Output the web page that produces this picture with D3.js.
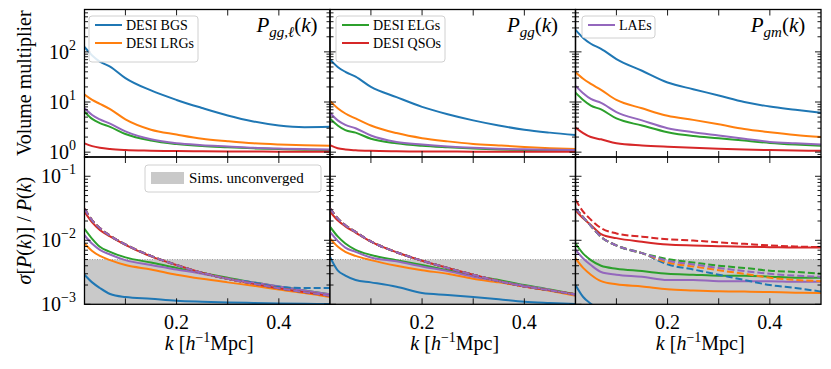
<!DOCTYPE html>
<html><head><meta charset="utf-8">
<script src="https://cdn.jsdelivr.net/npm/d3@7"></script>
<style>
body{margin:0;background:#fff}
text{font-family:"Liberation Serif","DejaVu Serif",serif;fill:#000}
</style>
</head><body>
<svg id="c" width="831" height="369"></svg>
<script>
// ---------------- DATA ----------------
const kGrid = [0.02, 0.035, 0.05, 0.07, 0.1, 0.15, 0.2, 0.25, 0.3, 0.35, 0.4, 0.45, 0.5];
const tracers = ["DESI BGS", "DESI LRGs", "DESI ELGs", "DESI QSOs", "LAEs"];
const colors = ["#1f77b4", "#ff7f0e", "#2ca02c", "#d62728", "#9467bd"];
const panelTitles = [["P", "gg,ℓ"], ["P", "gg"], ["P", "gm"]];
const xTickLabels = [0.2, 0.4];
const topTickLabels = [1, 10, 100];
const botTickLabels = [1e-3, 1e-2, 1e-1];
const shadeRange = [1e-3, 5e-3];

// Volume multiplier (top row), order: BGS, LRGs, ELGs, QSOs, LAEs
const volPggl = [
  [125, 85, 64, 51, 30, 17, 11, 7.6, 5.4, 4.1, 3.4, 3.15, 3.2],
  [14, 11, 9.2, 7.2, 4.5, 2.8, 2.25, 1.85, 1.65, 1.5, 1.42, 1.37, 1.34],
  [6.4, 4.6, 3.8, 3.2, 2.3, 1.7, 1.45, 1.32, 1.25, 1.19, 1.15, 1.12, 1.1],
  [1.5, 1.32, 1.22, 1.15, 1.1, 1.07, 1.05, 1.04, 1.03, 1.03, 1.02, 1.02, 1.02],
  [7.5, 5.5, 4.5, 3.7, 2.6, 1.8, 1.5, 1.38, 1.3, 1.22, 1.18, 1.15, 1.13]
];
const volPgg = [
  [71, 50, 40, 32, 20, 12.5, 8, 5.7, 4.3, 3.4, 2.8, 2.45, 2.2],
  [10.5, 7.5, 5.9, 4.7, 3.4, 2.4, 1.9, 1.64, 1.46, 1.36, 1.27, 1.2, 1.15],
  [4.7, 3.4, 2.75, 2.45, 1.85, 1.5, 1.34, 1.25, 1.18, 1.13, 1.1, 1.08, 1.06],
  [1.38, 1.2, 1.13, 1.09, 1.06, 1.04, 1.03, 1.03, 1.02, 1.02, 1.02, 1.02, 1.02],
  [6.1, 4.3, 3.5, 3.0, 2.15, 1.6, 1.42, 1.3, 1.22, 1.17, 1.14, 1.11, 1.1]
];
const volPgm = [
  [275, 190, 145, 115, 72, 42, 24.5, 18, 13.5, 10, 8.1, 7, 6.1],
  [39, 29, 23, 17.5, 11, 7.5, 5.3, 4.4, 3.6, 2.9, 2.5, 2.2, 2.0],
  [15.4, 11, 8.5, 7.1, 4.7, 3.4, 2.5, 2.1, 1.9, 1.7, 1.53, 1.42, 1.34],
  [3.1, 2.4, 2.0, 1.8, 1.5, 1.36, 1.28, 1.22, 1.17, 1.13, 1.1, 1.08, 1.06],
  [21, 15, 11.5, 9.6, 6.3, 4.3, 3.0, 2.5, 2.15, 1.85, 1.6, 1.5, 1.42]
];

// sigma[P]/P (bottom row), solid lines
const sigPgglSolid = [
  [0.0029, 0.0022, 0.0018, 0.00145, 0.0013, 0.00122, 0.00114, 0.0011, 0.00107, 0.00105, 0.00103, 0.00102, 0.00101],
  [0.0089, 0.0068, 0.0057, 0.0049, 0.0041, 0.0035, 0.0029, 0.0025, 0.0022, 0.00195, 0.0017, 0.0015, 0.0013],
  [0.0151, 0.0105, 0.0079, 0.0066, 0.0054, 0.0045, 0.0037, 0.0031, 0.0026, 0.0022, 0.0019, 0.00165, 0.00143],
  [0.028, 0.019, 0.0145, 0.0115, 0.0085, 0.0056, 0.0041, 0.0031, 0.0025, 0.0021, 0.00178, 0.00155, 0.00136],
  [0.012, 0.0088, 0.0071, 0.006, 0.0049, 0.0041, 0.0035, 0.003, 0.0025, 0.0022, 0.0019, 0.00165, 0.00143]
];
const sigPgglDashed = [
  [0.031, 0.0205, 0.0155, 0.0118, 0.0086, 0.0057, 0.0041, 0.0031, 0.0025, 0.00218, 0.00186, 0.0018, 0.0018],
  [0.031, 0.0205, 0.0155, 0.0118, 0.0086, 0.0057, 0.0041, 0.0031, 0.0025, 0.0021, 0.00178, 0.00155, 0.00136],
  [0.031, 0.0205, 0.0155, 0.0118, 0.0086, 0.0057, 0.0041, 0.0031, 0.0025, 0.0021, 0.00178, 0.00155, 0.00136],
  [0.031, 0.0205, 0.0155, 0.0118, 0.0086, 0.0057, 0.0041, 0.0031, 0.0025, 0.0021, 0.00178, 0.00155, 0.00136],
  [0.031, 0.0205, 0.0155, 0.0118, 0.0086, 0.0057, 0.0041, 0.0031, 0.0025, 0.0021, 0.00178, 0.00155, 0.00136]
];
const sigPggSolid = [
  [0.0055, 0.0034, 0.0028, 0.0024, 0.0022, 0.00188, 0.0015, 0.0014, 0.0013, 0.0012, 0.0011, 0.00105, 0.00101],
  [0.0107, 0.008, 0.0066, 0.0057, 0.0049, 0.004, 0.0034, 0.003, 0.0025, 0.0022, 0.0019, 0.00162, 0.00136],
  [0.0163, 0.0115, 0.0089, 0.0071, 0.0059, 0.0049, 0.0041, 0.0034, 0.0028, 0.0024, 0.002, 0.0017, 0.00143],
  [0.028, 0.0205, 0.0165, 0.0132, 0.0095, 0.0065, 0.0048, 0.0037, 0.0029, 0.0023, 0.0019, 0.00165, 0.00143],
  [0.0135, 0.0098, 0.0077, 0.0066, 0.0054, 0.0047, 0.0039, 0.0033, 0.0027, 0.0023, 0.00195, 0.00168, 0.0014]
];
const sigPggDashed = [
  [0.0316, 0.022, 0.0172, 0.0135, 0.0096, 0.0065, 0.0048, 0.0037, 0.0029, 0.0023, 0.0019, 0.00165, 0.00143],
  [0.0316, 0.022, 0.0172, 0.0135, 0.0096, 0.0065, 0.0048, 0.0037, 0.0029, 0.0023, 0.0019, 0.00165, 0.00143],
  [0.0316, 0.022, 0.0172, 0.0135, 0.0096, 0.0065, 0.0048, 0.0037, 0.0029, 0.0023, 0.0019, 0.00165, 0.00143],
  [0.0316, 0.022, 0.0172, 0.0135, 0.0096, 0.0065, 0.0048, 0.0037, 0.0029, 0.0023, 0.0019, 0.00165, 0.00143],
  [0.0316, 0.022, 0.0172, 0.0135, 0.0096, 0.0065, 0.0048, 0.0037, 0.0029, 0.0023, 0.0019, 0.00165, 0.00143]
];
const sigPgmSolid = [
  [0.002, 0.0013, 0.00102, 0.0008, 0.0006, 0.0005, 0.0004, 0.0004, 0.0004, 0.0004, 0.0004, 0.0004, 0.0004],
  [0.0052, 0.0037, 0.0029, 0.0023, 0.00205, 0.0019, 0.00172, 0.00165, 0.0016, 0.00158, 0.00155, 0.00152, 0.0015],
  [0.0089, 0.0062, 0.0049, 0.004, 0.0036, 0.0033, 0.003, 0.0029, 0.0028, 0.0028, 0.0027, 0.0026, 0.0026],
  [0.0295, 0.022, 0.0174, 0.0125, 0.0108, 0.0095, 0.0086, 0.0083, 0.0081, 0.0079, 0.0078, 0.0077, 0.0077],
  [0.0071, 0.0052, 0.0041, 0.0032, 0.0029, 0.0027, 0.0024, 0.0024, 0.0023, 0.0023, 0.0023, 0.00225, 0.00225]
];
const sigPgmDashed = [
  [0.0316, 0.023, 0.0168, 0.0113, 0.0083, 0.0063, 0.0042, 0.0035, 0.0029, 0.0024, 0.002, 0.0018, 0.00158],
  [0.0316, 0.023, 0.0168, 0.0113, 0.0083, 0.0063, 0.0045, 0.0039, 0.0034, 0.003, 0.0026, 0.0024, 0.0023],
  [0.0316, 0.023, 0.0168, 0.0113, 0.0083, 0.0063, 0.0051, 0.0045, 0.004, 0.0037, 0.00335, 0.0032, 0.003],
  [0.043, 0.028, 0.021, 0.0155, 0.0128, 0.0114, 0.0104, 0.0099, 0.0093, 0.0088, 0.0083, 0.008, 0.0078],
  [0.0316, 0.023, 0.0168, 0.0113, 0.0083, 0.0063, 0.0048, 0.0042, 0.0037, 0.0033, 0.003, 0.0028, 0.0027]
];

const volPanels = [volPggl, volPgg, volPgm];
const sigSolidPanels = [sigPgglSolid, sigPggSolid, sigPgmSolid];
const sigDashedPanels = [sigPgglDashed, sigPggDashed, sigPgmDashed];

// ---------------- LAYOUT ----------------
const svg = d3.select("#c");
const colX = [84.5, 330, 575.5];
const W = 245.5;
const topY0 = 9.5, midY = 157, botY1 = 304.3;

const yTop = d3.scaleLog().domain([0.8, 700]).range([midY, topY0]);
const yBot = d3.scaleLog().domain([1e-3, 0.2]).range([botY1, midY]);

const defs = svg.append("defs");

function logMinor(lo, hi) {
  const out = [];
  for (let e = -4; e <= 3; e++) for (let m = 2; m <= 9; m++) {
    const v = m * Math.pow(10, e);
    if (v >= lo * 0.9999 && v <= hi * 1.0001) out.push(v);
  }
  return out;
}

function drawPanel(ci, ri) {
  const x = d3.scaleLinear().domain([0.02, 0.5]).range([colX[ci], colX[ci] + W]);
  const y = ri === 0 ? yTop : yBot;
  const [yb, yt] = y.range();
  const g = svg.append("g");
  const cid = "clip" + ci + ri;
  defs.append("clipPath").attr("id", cid).append("rect")
    .attr("x", colX[ci]).attr("y", yt).attr("width", W).attr("height", yb - yt);
  const pg = g.append("g").attr("clip-path", "url(#" + cid + ")");
  const line = d3.line().x((d, i) => x(kGrid[i])).y(d => y(d)).curve(d3.curveMonotoneX);

  if (ri === 0) {
    volPanels[ci].forEach((s, ti) => {
      pg.append("path").attr("d", line(s)).attr("fill", "none")
        .attr("stroke", colors[ti]).attr("stroke-width", 2);
    });
  } else {
    pg.append("rect").attr("x", colX[ci]).attr("width", W)
      .attr("y", y(shadeRange[1])).attr("height", y(shadeRange[0]) - y(shadeRange[1]))
      .attr("fill", "#c9c9c9");
    pg.append("line").attr("x1", colX[ci]).attr("x2", colX[ci] + W)
      .attr("y1", y(shadeRange[1])).attr("y2", y(shadeRange[1]))
      .attr("stroke", "#8a8a8a").attr("stroke-width", 0.8).attr("stroke-dasharray", "1,1.5");
    sigSolidPanels[ci].forEach((s, ti) => {
      pg.append("path").attr("d", line(s)).attr("fill", "none")
        .attr("stroke", colors[ti]).attr("stroke-width", 2);
    });
    sigDashedPanels[ci].forEach((s, ti) => {
      pg.append("path").attr("d", line(s)).attr("fill", "none")
        .attr("stroke", colors[ti]).attr("stroke-width", 2).attr("stroke-dasharray", "7,3");
    });
  }

  // ticks (inward, all sides)
  const tk = g.append("g").attr("stroke", "#000").attr("stroke-width", 0.9);
  const xMajor = [0.1, 0.2, 0.3, 0.4];
  xMajor.forEach(v => {
    const px = x(v);
    tk.append("line").attr("x1", px).attr("x2", px).attr("y1", yb).attr("y2", yb - 6);
    tk.append("line").attr("x1", px).attr("x2", px).attr("y1", yt).attr("y2", yt + 6);
  });
  const [dlo, dhi] = y.domain();
  const yMaj = (ri === 0 ? topTickLabels : botTickLabels);
  const yMin = logMinor(dlo, dhi);
  const xl = colX[ci], xr = colX[ci] + W;
  yMaj.forEach(v => {
    const py = y(v);
    tk.append("line").attr("x1", xl).attr("x2", xl + 6).attr("y1", py).attr("y2", py);
    tk.append("line").attr("x1", xr).attr("x2", xr - 6).attr("y1", py).attr("y2", py);
  });
  yMin.forEach(v => {
    const py = y(v);
    tk.append("line").attr("x1", xl).attr("x2", xl + 3.5).attr("y1", py).attr("y2", py);
    tk.append("line").attr("x1", xr).attr("x2", xr - 3.5).attr("y1", py).attr("y2", py);
  });

  // frame
  g.append("rect").attr("x", xl).attr("y", yt).attr("width", W).attr("height", yb - yt)
    .attr("fill", "none").attr("stroke", "#000").attr("stroke-width", 1.3);

  // y tick labels on first column
  if (ci === 0) {
    yMaj.forEach(v => {
      const e = Math.round(Math.log10(v));
      const t = svg.append("text").attr("x", 76).attr("y", y(v) + 7)
        .attr("text-anchor", "end").attr("font-size", 20);
      t.append("tspan").text("10");
      t.append("tspan").attr("dy", -9).attr("font-size", 14).text(e < 0 ? "−" + (-e) : String(e));
    });
  }
  // x tick labels bottom row
  if (ri === 1) {
    xTickLabels.forEach(v => {
      svg.append("text").attr("x", x(v)).attr("y", 329).attr("text-anchor", "middle")
        .attr("font-size", 20).text(v.toFixed(1));
    });
    const xlab = svg.append("text").attr("x", colX[ci] + W / 2 + 2).attr("y", 350)
      .attr("text-anchor", "middle").attr("font-size", 20);
    xlab.append("tspan").attr("font-style", "italic").text("k");
    xlab.append("tspan").text(" [");
    xlab.append("tspan").attr("font-style", "italic").text("h");
    xlab.append("tspan").attr("dy", -8).attr("font-size", 14).text("−1");
    xlab.append("tspan").attr("dy", 8).text("Mpc]");
  }
  // titles top row
  if (ri === 0) {
    const tt = svg.append("text").attr("x", colX[ci] + W * 0.825).attr("y", 32)
      .attr("text-anchor", "middle").attr("font-size", 21);
    tt.append("tspan").attr("font-style", "italic").text(panelTitles[ci][0]);
    tt.append("tspan").attr("font-style", "italic").attr("font-size", 15).attr("dy", 5).text(panelTitles[ci][1]);
    tt.append("tspan").attr("dy", -5).text("(");
    tt.append("tspan").attr("font-style", "italic").text("k");
    tt.append("tspan").text(")");
  }
}

for (let ri = 0; ri < 2; ri++) for (let ci = 0; ci < 3; ci++) drawPanel(ci, ri);

// y axis labels
svg.append("text").attr("transform", "translate(24," + ((topY0 + midY) / 2) + ") rotate(-90)")
  .attr("text-anchor", "middle").attr("dominant-baseline", "central").attr("font-size", 20)
  .text("Volume multiplier");
const sl = svg.append("text").attr("transform", "translate(24," + ((midY + botY1) / 2) + ") rotate(-90)")
  .attr("text-anchor", "middle").attr("dominant-baseline", "central").attr("font-size", 20);
sl.append("tspan").attr("font-style", "italic").text("σ");
sl.append("tspan").text("[");
sl.append("tspan").attr("font-style", "italic").text("P");
sl.append("tspan").text("(");
sl.append("tspan").attr("font-style", "italic").text("k");
sl.append("tspan").text(")] / ");
sl.append("tspan").attr("font-style", "italic").text("P");
sl.append("tspan").text("(");
sl.append("tspan").attr("font-style", "italic").text("k");
sl.append("tspan").text(")");

// legends
function legendBox(x, y, w, h) {
  svg.append("rect").attr("x", x).attr("y", y).attr("width", w).attr("height", h)
    .attr("rx", 3).attr("fill", "#fff").attr("fill-opacity", 0.85)
    .attr("stroke", "#d0d0d0").attr("stroke-width", 1);
}
const legendGroups = [[0, 1], [2, 3], [4]];
const legendPos = [[89, 16, 109], [336, 16, 109], [582, 16, 73]];
legendGroups.forEach((grp, li) => {
  const [lx, ly, lw] = legendPos[li];
  legendBox(lx, ly, lw, 6 + grp.length * 18 + (grp.length > 1 ? 4 : -2));
  grp.forEach((ti, j) => {
    const cy = ly + 9 + j * 18;
    svg.append("line").attr("x1", lx + 6).attr("x2", lx + 33).attr("y1", cy).attr("y2", cy)
      .attr("stroke", colors[ti]).attr("stroke-width", 2);
    svg.append("text").attr("x", lx + 37).attr("y", cy + 5).attr("font-size", 14).text(tracers[ti]);
  });
});
// shade legend
legendBox(145, 165, 176, 27);
svg.append("rect").attr("x", 151).attr("y", 172).attr("width", 33).attr("height", 12)
  .attr("fill", "#c9c9c9");
svg.append("text").attr("x", 189).attr("y", 183).attr("font-size", 15).text("Sims.  unconverged");
</script>
</body></html>
